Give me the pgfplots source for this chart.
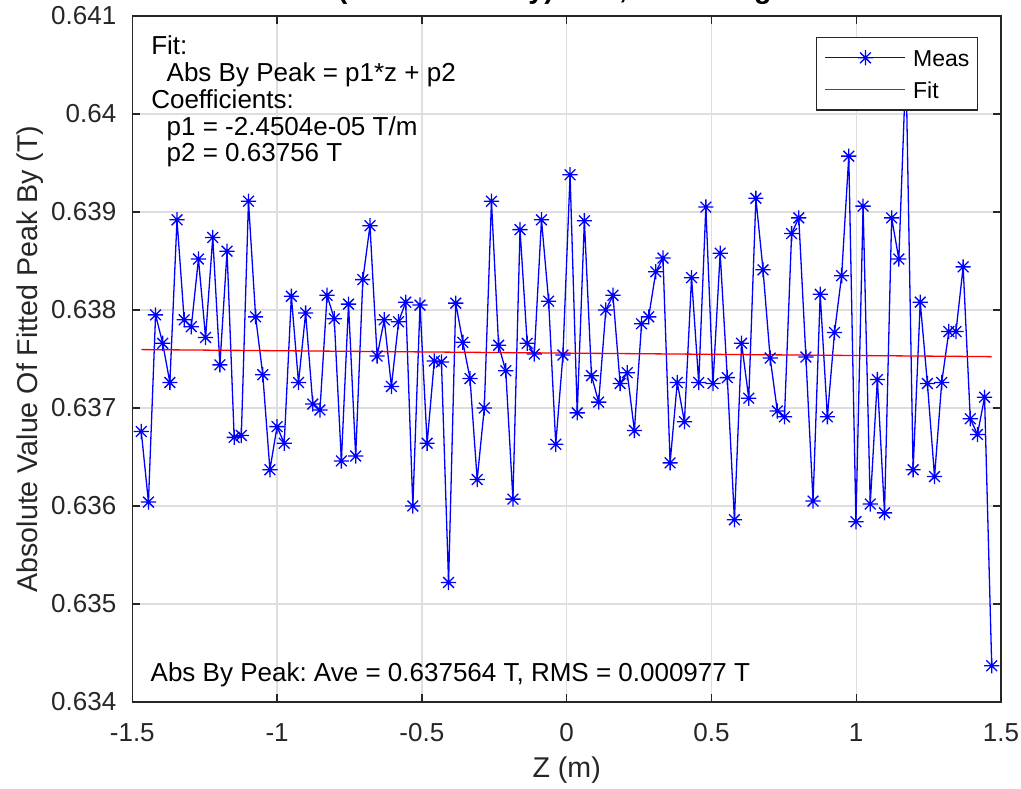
\documentclass[border=0pt]{standalone}
\usepackage{fontspec}
\setmainfont{Liberation Sans}
\usepackage{pgfplots}
\pgfplotsset{compat=1.18}
\frenchspacing
\definecolor{axgray}{RGB}{38,38,38}
\definecolor{gridgray}{RGB}{222,222,222}
\pgfdeclareplotmark{mstar}{%
  \pgfpathmoveto{\pgfqpoint{-\pgfplotmarksize}{0pt}}\pgfpathlineto{\pgfqpoint{\pgfplotmarksize}{0pt}}%
  \pgfpathmoveto{\pgfqpoint{0pt}{-\pgfplotmarksize}}\pgfpathlineto{\pgfqpoint{0pt}{\pgfplotmarksize}}%
  \pgfpathmoveto{\pgfqpoint{-0.7071\pgfplotmarksize}{-0.7071\pgfplotmarksize}}\pgfpathlineto{\pgfqpoint{0.7071\pgfplotmarksize}{0.7071\pgfplotmarksize}}%
  \pgfpathmoveto{\pgfqpoint{-0.7071\pgfplotmarksize}{0.7071\pgfplotmarksize}}\pgfpathlineto{\pgfqpoint{0.7071\pgfplotmarksize}{-0.7071\pgfplotmarksize}}%
  \pgfusepathqstroke}
\newcommand{\fsT}{\fontsize{13}{15}\selectfont\frenchspacing}
\begin{document}
\begin{tikzpicture}
\begin{axis}[
  name=ax, scale only axis, width=434.35pt, height=343pt,
  xmin=-1.5, xmax=1.5, ymin=0.634, ymax=0.641,
  xtick={-1.5,-1,-0.5,0,0.5,1,1.5},
  xticklabels={-1.5,-1,-0.5,0,0.5,1,1.5},
  ytick={0.634,0.635,0.636,0.637,0.638,0.639,0.64,0.641},
  yticklabels={0.634,0.635,0.636,0.637,0.638,0.639,0.64,0.641},
  scaled y ticks=false,
  grid=major, major grid style={gridgray, line width=0.65pt},
  axis line style={axgray, line width=0.65pt},
  tick style={axgray, line width=0.65pt},
  tick align=inside, major tick length=4pt,
  tick label style={font=\fsT, text=axgray},
  xticklabel style={anchor=base, inner sep=0pt, yshift=-20pt},
  yticklabel style={anchor=east, inner sep=0pt, xshift=-7.8pt},
  xlabel={Z (m)}, ylabel={Absolute Value Of Fitted Peak By (T)},
  label style={font=\fontsize{14.3}{16}\selectfont, text=axgray},
  xlabel style={at={([yshift=-38pt]axis description cs:0.5,0)}, anchor=base, inner sep=0pt},
  ylabel style={at={([xshift=-47.5pt]axis description cs:0,0.5)}, anchor=base, inner sep=0pt},
  title={Abs(Fitted Peak By) vs Z, Excluding Ends},
  title style={font=\bfseries\fontsize{14.3}{16}\selectfont\frenchspacing, at={([yshift=2.5pt]axis description cs:0.5,1)}, anchor=base, inner sep=0pt},
  legend style={at={([xshift=-11.5pt,yshift=-10.5pt]axis description cs:1,1)}, anchor=north east,
    draw=axgray, line width=0.65pt, fill=white, inner xsep=4pt, inner ysep=6pt,
    row sep=7.8pt, column sep=3.5pt, font=\fontsize{11.5}{13}\selectfont,
    nodes={inner sep=0pt, text height=8.2pt, text depth=0pt}},
  legend cell align=left,
  legend image code/.code={\draw[mark repeat=2,mark phase=2,#1] plot coordinates {(0pt,0pt) (20pt,0pt) (40pt,0pt)};},
]
\addplot[blue, line width=0.65pt, mark=mstar, mark size=3.8pt, mark options={solid, line width=0.65pt}] coordinates {
(-1.4690,0.63676) (-1.4443,0.63604) (-1.4196,0.63795) (-1.3950,0.63766) (-1.3703,0.63726)
(-1.3456,0.63892) (-1.3209,0.63790) (-1.2962,0.63783) (-1.2716,0.63852) (-1.2469,0.63772)
(-1.2222,0.63874) (-1.1975,0.63744) (-1.1728,0.63860) (-1.1482,0.63670) (-1.1235,0.63672)
(-1.0988,0.63911) (-1.0741,0.63793) (-1.0494,0.63734) (-1.0248,0.63637) (-1.0001,0.63681)
(-0.9754,0.63664) (-0.9507,0.63814) (-0.9260,0.63726) (-0.9014,0.63797) (-0.8767,0.63704)
(-0.8520,0.63698) (-0.8273,0.63815) (-0.8026,0.63791) (-0.7780,0.63646) (-0.7533,0.63806)
(-0.7286,0.63651) (-0.7039,0.63831) (-0.6792,0.63886) (-0.6546,0.63753) (-0.6299,0.63790)
(-0.6052,0.63722) (-0.5805,0.63788) (-0.5558,0.63808) (-0.5312,0.63600) (-0.5065,0.63805)
(-0.4818,0.63664) (-0.4571,0.63748) (-0.4324,0.63747) (-0.4078,0.63522) (-0.3831,0.63807)
(-0.3584,0.63767) (-0.3337,0.63730) (-0.3090,0.63627) (-0.2844,0.63700) (-0.2597,0.63911)
(-0.2350,0.63764) (-0.2103,0.63738) (-0.1856,0.63607) (-0.1610,0.63882) (-0.1363,0.63766)
(-0.1116,0.63755) (-0.0869,0.63892) (-0.0622,0.63809) (-0.0376,0.63663) (-0.0129,0.63754)
(0.0118,0.63938) (0.0365,0.63695) (0.0612,0.63891) (0.0858,0.63733) (0.1105,0.63706)
(0.1352,0.63800) (0.1599,0.63815) (0.1846,0.63725) (0.2092,0.63736) (0.2339,0.63677)
(0.2586,0.63786) (0.2833,0.63793) (0.3080,0.63839) (0.3326,0.63853) (0.3573,0.63644)
(0.3820,0.63726) (0.4067,0.63686) (0.4314,0.63833) (0.4560,0.63726) (0.4807,0.63905)
(0.5054,0.63725) (0.5301,0.63858) (0.5548,0.63731) (0.5794,0.63586) (0.6041,0.63766)
(0.6288,0.63710) (0.6535,0.63914) (0.6782,0.63841) (0.7028,0.63751) (0.7275,0.63697)
(0.7522,0.63691) (0.7769,0.63878) (0.8016,0.63894) (0.8262,0.63752) (0.8509,0.63605)
(0.8756,0.63816) (0.9003,0.63691) (0.9250,0.63777) (0.9496,0.63835) (0.9743,0.63957)
(0.9990,0.63584) (1.0237,0.63906) (1.0484,0.63602) (1.0730,0.63729) (1.0977,0.63593)
(1.1224,0.63894) (1.1471,0.63852) (1.1718,0.64050) (1.1964,0.63637) (1.2211,0.63808)
(1.2458,0.63725) (1.2705,0.63630) (1.2952,0.63726) (1.3198,0.63778) (1.3445,0.63778)
(1.3692,0.63844) (1.3939,0.63689) (1.4186,0.63673) (1.4432,0.63711) (1.4679,0.63437)
};
\addlegendentry{Meas}
\addplot[red, line width=0.65pt] coordinates {(-1.4690,0.637596) (1.4679,0.637524)};
\addlegendentry{Fit}
\node[anchor=base west, inner sep=0pt, font=\fsT] at ([xshift=9.3pt,yshift=-19.5pt]axis description cs:0,1) {Fit:};
\node[anchor=base west, inner sep=0pt, font=\fsT] at ([xshift=17pt,yshift=-33pt]axis description cs:0,1) {Abs By Peak = p1*z + p2};
\node[anchor=base west, inner sep=0pt, font=\fsT] at ([xshift=9.3pt,yshift=-46.3pt]axis description cs:0,1) {Coefficients:};
\node[anchor=base west, inner sep=0pt, font=\fsT] at ([xshift=17pt,yshift=-59.6pt]axis description cs:0,1) {p1 = -2.4504e-05 T/m};
\node[anchor=base west, inner sep=0pt, font=\fsT] at ([xshift=17pt,yshift=-73pt]axis description cs:0,1) {p2 = 0.63756 T};
\node[anchor=base west, inner sep=0pt, font=\fsT] at ([xshift=9pt,yshift=10pt]axis description cs:0,0) {Abs By Peak: Ave = 0.637564 T, RMS = 0.000977 T};
\end{axis}
\pgfresetboundingbox
\path ([xshift=-66.15pt,yshift=-43.5pt]ax.south west) rectangle ([xshift=10pt,yshift=8pt]ax.north east);
\end{tikzpicture}
\end{document}
